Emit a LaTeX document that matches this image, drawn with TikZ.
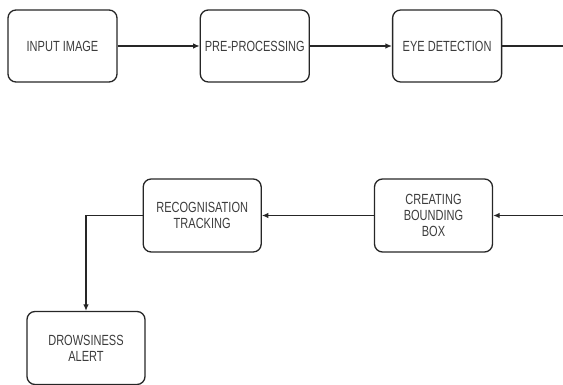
\documentclass[tikz,border=0pt]{standalone}
\usepackage{fontspec}
\setmainfont{Liberation Sans}
\newfontfamily\boxfont[FakeStretch=0.75]{Liberation Sans}
\usetikzlibrary{positioning,arrows.meta}
\definecolor{linecol}{HTML}{262626}
\definecolor{textcol}{HTML}{3c3c3c}

\begin{document}
\begin{tikzpicture}[
    x=1pt,y=1pt,
    >={Latex[length=6.5pt,width=5.5pt]},
    node distance=82pt,
    every node/.style={font=\boxfont\fontsize{14.7}{16}\selectfont},
    stage/.style={
        rounded corners=8pt,
        minimum width=109pt,
        minimum height=72pt,
        align=center,
        text=textcol,
        draw=linecol,
        line width=1.3pt,
    },
    widestage/.style={
        stage,
        minimum width=118pt,
        minimum height=73pt,
    },
    arrow/.style={->,line width=1.2pt,color=linecol},
]
\useasboundingbox (0,0) rectangle (563,385);

% Top row
\node[stage] (input) at (62.5,339) {INPUT IMAGE};
\node[stage,right=of input] (preproc) {PRE-PROCESSING};
\node[stage,right=of preproc] (eyedet) {EYE DETECTION};
\coordinate (topedge) at (563,339);

\draw[arrow] (input) -- (preproc);
\draw[arrow] (preproc) -- (eyedet);
\draw[line width=1.2pt,color=linecol] (eyedet) -- (topedge);

% Second row
\coordinate (midedge) at (563,169.5);
\node[widestage] (bbox) at (433.5,169.5) {CREATING\\BOUNDING\\BOX};
\node[widestage,left=112pt of bbox] (recog) {RECOGNISATION\\TRACKING};

\draw[arrow] (midedge) -- (bbox);
\draw[arrow] (bbox) -- (recog);

% Alert
\node[widestage] (alert) at (86,37) {DROWSINESS\\ALERT};
\draw[arrow] (recog.west) -| (alert.north);

\end{tikzpicture}
\end{document}
